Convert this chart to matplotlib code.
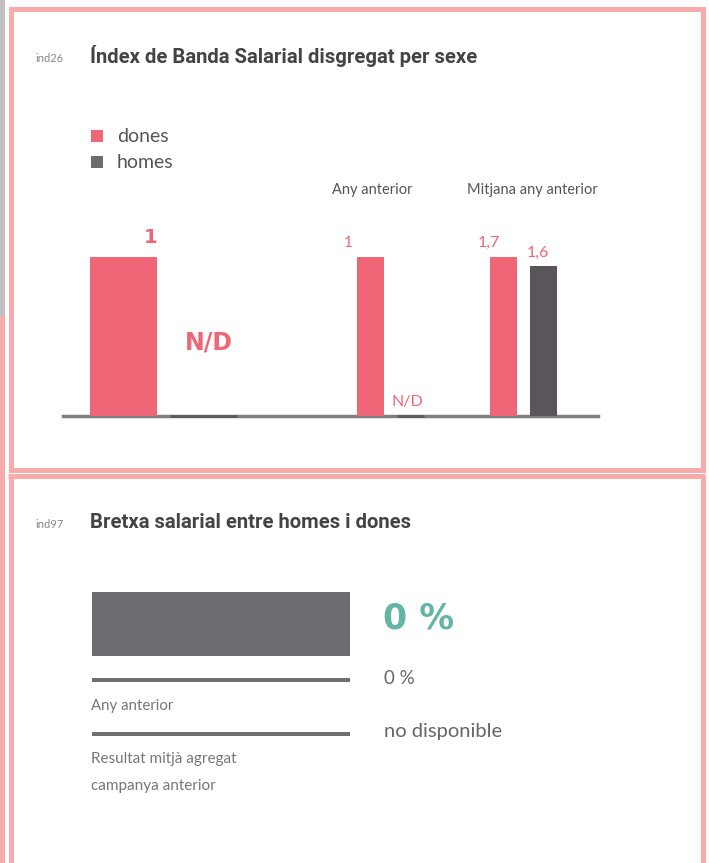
import matplotlib.pyplot as plt
import matplotlib.patches as mpatches
from matplotlib import font_manager

# Data
series = ['dones', 'homes']
groups = ['Actual', 'Any anterior', 'Mitjana any anterior']
dones_vals = [1.0, 1.0, 1.7]
homes_vals = [None, None, 1.6]          # None = N/D
dones_labels = ['1', '1', '1,7']
homes_labels = ['N/D', 'N/D', '1,6']

bretxa_actual = '0 %'
bretxa_anterior = '0 %'
bretxa_mitja = 'no disponible'
bretxa_rows = ['Any anterior', 'Resultat mitjà agregat\ncampanya anterior']

PINK = '#ef6676'
DARK = '#5a555b'
GREY_SQ = '#6b6b70'
BORDER = '#f9abab'
TEAL = '#64b5a5'
W, H = 709, 863

names = {f.name for f in font_manager.fontManager.ttflist}
TITLE_FONT = 'Liberation Sans Narrow' if 'Liberation Sans Narrow' in names else 'Roboto'
BODY_FONT = 'Lato'

fig = plt.figure(figsize=(W / 100, H / 100), dpi=100)

# overlay in pixel coordinates for frames and texts
ov = fig.add_axes([0, 0, 1, 1])
ov.set_xlim(0, W)
ov.set_ylim(H, 0)
ov.axis('off')

# left strip and card borders
ov.add_patch(mpatches.Rectangle((0, 0), 5, 316, color='#c0c0c0', lw=0))
ov.add_patch(mpatches.Rectangle((0, 316), 5, H - 316, color=BORDER, lw=0))
ov.add_patch(mpatches.Rectangle((10.5, 9.5), 692, 460, fill=False, ec=BORDER, lw=3.6))
ov.plot([10.5, 10.5], [475.5, H], color=BORDER, lw=3.6, solid_capstyle='butt')
ov.plot([702.5, 702.5], [475.5, H], color=BORDER, lw=3.6, solid_capstyle='butt')
ov.plot([8, 705], [475.5, 475.5], color=BORDER, lw=3.6, solid_capstyle='butt')

# titles
ov.text(35, 58, 'ind26', fontsize=8, color='#888888', va='center', family=BODY_FONT)
ov.text(90, 56, 'Índex de Banda Salarial disgregat per sexe', fontsize=14.6,
        fontweight='bold', color='#444444', va='center', family=TITLE_FONT)
ov.text(35, 524, 'ind97', fontsize=8, color='#888888', va='center', family=BODY_FONT)
ov.text(90, 522, 'Bretxa salarial entre homes i dones', fontsize=14.6,
        fontweight='bold', color='#444444', va='center', family=TITLE_FONT)

# legend
for i, (name, col) in enumerate(zip(series, [PINK, GREY_SQ])):
    y = 136 + i * 26
    ov.add_patch(mpatches.Rectangle((91, y - 6), 12, 12, color=col, lw=0))
    ov.text(117, y, name, fontsize=14, color='#555555', va='center', family=BODY_FONT)

# chart 1: bars, each group scaled to its own maximum
x0, x1, base, top = 63, 598, 416, 257
ax = fig.add_axes([x0 / W, (H - base) / H, (x1 - x0) / W, (base - top) / H])
ax.set_xlim(x0, x1)
ax.set_ylim(0, 1)
ax.axis('off')

pos_d = [123.5, 370.5, 503.5]
pos_h = [203.5, 410.5, 543.5]
widths = [67, 27, 27]
ax.axhline(0, color='#808080', lw=2.5, clip_on=False, zorder=1)
for g in range(len(groups)):
    vals = [v for v in (dones_vals[g], homes_vals[g]) if v is not None]
    m = max(vals)
    ax.bar(pos_d[g], dones_vals[g] / m, widths[g], color=PINK, lw=0, zorder=2)
    if homes_vals[g] is None:
        ax.plot([pos_h[g] - widths[g] / 2, pos_h[g] + widths[g] / 2], [0, 0],
                color='#5c5c5c', lw=2, solid_capstyle='butt', clip_on=False, zorder=3)
    else:
        ax.bar(pos_h[g], homes_vals[g] / m, widths[g], color=DARK, lw=0, zorder=2)

# value labels
ov.text(pos_d[0] + 27, 237, dones_labels[0], fontsize=14, fontweight='bold', color=PINK,
        ha='center', va='center', family='DejaVu Sans')
ov.text(pos_h[0] + 5, 342, homes_labels[0], fontsize=17, fontweight='bold', color=PINK,
        ha='center', va='center', family='DejaVu Sans')
ov.text(348, 243, dones_labels[1], fontsize=11, color=PINK, ha='center', va='center', family=BODY_FONT)
ov.text(407, 402, homes_labels[1], fontsize=11.5, color=PINK, ha='center', va='center', family=BODY_FONT)
ov.text(489, 243, dones_labels[2], fontsize=11.5, color=PINK, ha='center', va='center', family=BODY_FONT)
ov.text(538, 253, homes_labels[2], fontsize=11.5, color=PINK, ha='center', va='center', family=BODY_FONT)
ov.text(372, 190, groups[1], fontsize=10.5, color='#555555', ha='center', va='center', family=BODY_FONT)
ov.text(532, 190, groups[2], fontsize=10.5, color='#555555', ha='center', va='center', family=BODY_FONT)

# chart 2: gauge bar and reference lines
bx = fig.add_axes([92 / W, (H - 740) / H, (350 - 92) / W, (740 - 590) / H])
bx.set_xlim(0, 1)
bx.set_ylim(740, 590)
bx.axis('off')
bx.barh(624, 1, height=64, left=0, color='#6b6c70', lw=0)
bx.barh([680, 734], [1, 1], height=3.5, left=0, color='#707070', lw=0)

ov.text(91, 706, bretxa_rows[0], fontsize=10.8, color='#777777', va='center', family=BODY_FONT)
ov.text(91, 759, bretxa_rows[1].split('\n')[0], fontsize=11, color='#777777', va='center', family=BODY_FONT)
ov.text(91, 786, bretxa_rows[1].split('\n')[1], fontsize=11, color='#777777', va='center', family=BODY_FONT)

ov.text(383, 618, bretxa_actual, fontsize=25, fontweight='bold', color=TEAL, va='center',
        family='DejaVu Sans')
ov.text(384, 678, bretxa_anterior, fontsize=13.5, color='#666666', va='center', family=BODY_FONT)
ov.text(384, 731, bretxa_mitja, fontsize=14.5, color='#666666', va='center', family=BODY_FONT)

fig.savefig('out.png', dpi=100)
